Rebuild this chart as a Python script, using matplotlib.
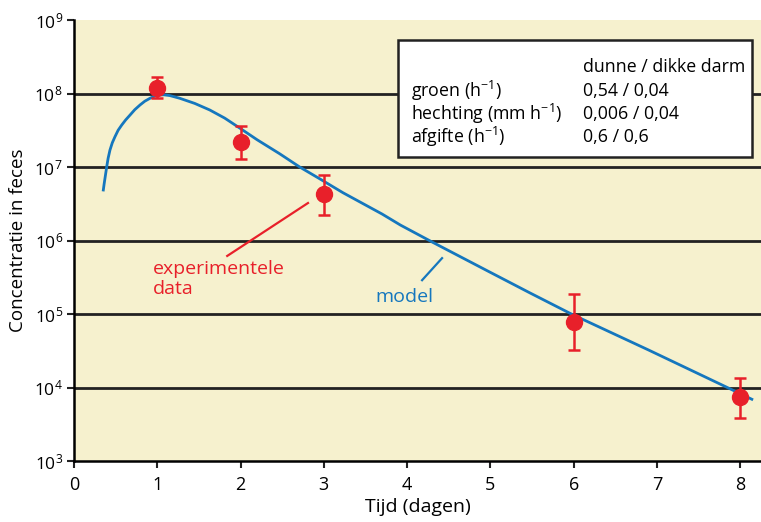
import matplotlib
matplotlib.use("Agg")
import matplotlib.pyplot as plt
import numpy as np
from matplotlib.patches import Rectangle

plt.rcParams['font.family'] = ['Open Sans', 'DejaVu Sans']
plt.rcParams['mathtext.fontset'] = 'custom'
plt.rcParams['mathtext.rm'] = 'Open Sans'
plt.rcParams['mathtext.it'] = 'Open Sans:italic'

# Experimental data
days = [1, 2, 3, 6, 8]
conc = [1.19e8, 2.2e7, 4.3e6, 7.8e4, 7.4e3]
err_low = [8.7e7, 1.3e7, 2.2e6, 3.2e4, 3.8e3]
err_high = [1.66e8, 3.6e7, 7.8e6, 1.9e5, 1.35e4]

# Model curve, log10 concentration
model_t = [0.352, 0.362, 0.372, 0.393, 0.41, 0.432, 0.46, 0.492, 0.53, 0.573,
           0.62, 0.673, 0.73, 0.793, 0.85, 0.913, 0.96, 1.013, 1.08, 1.15,
           1.27, 1.45, 1.63, 1.81, 1.99, 2.2, 2.47, 2.71, 2.95, 3.23, 3.7,
           3.92, 4.30, 4.96, 5.47, 5.99, 6.9, 7.79, 8.14]
model_log = [6.687, 6.77, 6.846, 7.004, 7.12, 7.231, 7.33, 7.412, 7.50, 7.571,
             7.64, 7.707, 7.78, 7.844, 7.895, 7.935, 7.96, 7.980, 7.982, 7.972,
             7.935, 7.865, 7.776, 7.665, 7.53, 7.37, 7.18, 7.0, 6.84, 6.65, 6.36,
             6.21, 5.98, 5.59, 5.29, 4.99, 4.51, 4.03, 3.84]

xticks = [0, 1, 2, 3, 4, 5, 6, 7, 8]
ytick_exp = [3, 4, 5, 6, 7, 8, 9]

box_header = "dunne / dikke darm"
box_rows = [r"groen (h$^{-1}$)", r"hechting (mm h$^{-1}$)", r"afgifte (h$^{-1}$)"]
box_vals = ["0,54 / 0,04", "0,006 / 0,04", "0,6 / 0,6"]

RED = '#E8202A'
BLUE = '#1577BE'
BG = '#F6F1CE'

fig = plt.figure(figsize=(7.61, 5.22), dpi=100)
ax = fig.add_axes([74/761, 1-461/522, 1-74/761, (461-20)/522])
ax.set_facecolor(BG)
ax.set_yscale('log')
ax.set_xlim(0, 8.25)
ax.set_ylim(1e3, 1e9)

for e in ytick_exp[1:-1]:
    ax.axhline(10.0**e, color='#222222', lw=2.0, zorder=1)

ax.plot(model_t, 10.0**np.array(model_log), color=BLUE, lw=2.0, zorder=3,
        solid_joinstyle='round')

yerr = [np.array(conc) - np.array(err_low), np.array(err_high) - np.array(conc)]
ax.errorbar(days, conc, yerr=yerr, fmt='o', color=RED, ms=11.5, elinewidth=1.8,
            capsize=4.5, capthick=1.8, zorder=4)

# annotations
ax.plot([1.84, 2.81], [10**5.79, 10**6.51], color=RED, lw=1.6, zorder=3)
ax.text(0.95, 10**5.74, "experimentele\ndata", color=RED, fontsize=14,
        va='top', ha='left', linespacing=1.2)
ax.plot([4.18, 4.42], [10**5.46, 10**5.76], color=BLUE, lw=1.6, zorder=3)
ax.text(3.97, 10**5.23, "model", color=BLUE, fontsize=14, va='center', ha='center')

ax.spines['top'].set_visible(False)
ax.spines['right'].set_visible(False)
ax.spines['left'].set_linewidth(1.8)
ax.spines['bottom'].set_linewidth(1.8)

ax.set_xticks(xticks)
ax.set_xticklabels([str(v) for v in xticks], fontsize=13)
ax.set_yticks([10.0**e for e in ytick_exp])
ax.set_yticklabels([r"$\mathregular{10^{%d}}$" % e for e in ytick_exp], fontsize=12.5)
ax.minorticks_off()
ax.tick_params(axis='both', direction='out', length=5, width=1.5, color='#222222')
ax.tick_params(axis='x', pad=6)
ax.tick_params(axis='y', pad=3)

ax.set_xlabel("Tijd (dagen)", fontsize=14, labelpad=3)
ax.set_ylabel("Concentratie in feces", fontsize=13.5, labelpad=5)

# parameter box
rect = Rectangle((398/761, 1-157/522), (752-398)/761, (157-40)/522,
                 transform=fig.transFigure, facecolor='white', edgecolor='#222222',
                 lw=1.8, zorder=5)
fig.patches.append(rect)
fig.text(583/761, 1-67/522, box_header, fontsize=12.8, va='center', ha='left', zorder=6)
for i, (lab, val) in enumerate(zip(box_rows, box_vals)):
    y = 1 - (91 + 23*i)/522
    fig.text(411/761, y, lab, fontsize=12.8, va='center', ha='left', zorder=6)
    fig.text(583/761, y, val, fontsize=12.8, va='center', ha='left', zorder=6)

fig.savefig("out.png", dpi=100)
